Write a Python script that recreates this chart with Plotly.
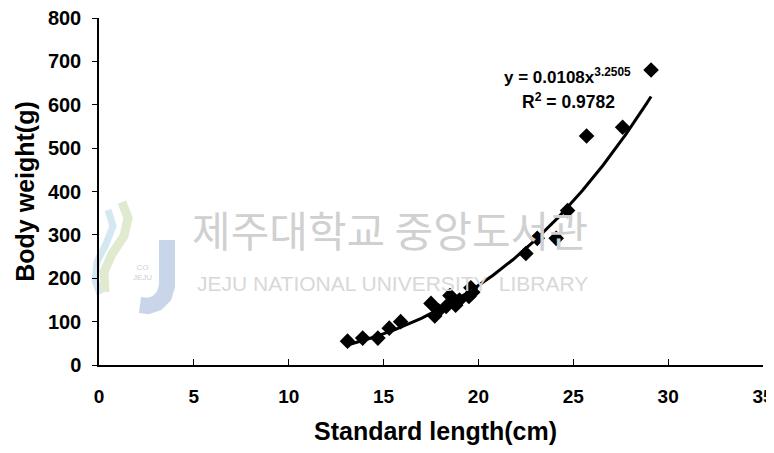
import numpy as np
import plotly.graph_objects as go

# Standard length (cm) vs body weight (g)
length_cm = [13.1, 13.9, 14.7, 15.3, 15.9, 17.5, 17.7, 17.9, 18.3, 18.5,
             18.8, 19.0, 19.5, 19.6, 19.7, 22.5, 23.1, 24.1, 24.7, 25.7,
             27.6, 29.1]
weight_g = [55, 62, 62, 85, 100, 142, 113, 125, 135, 160,
            138, 150, 158, 178, 168, 257, 292, 292, 356, 528,
            548, 680]

# power trendline shown on the chart: y = a * x^b
coef_a = 0.0108
coef_b = 3.2505
r_squared = 0.9782

x_ticks = [0, 5, 10, 15, 20, 25, 30, 35]
y_ticks = [0, 100, 200, 300, 400, 500, 600, 700, 800]

FONT = "Liberation Sans, Arial, sans-serif"

# the page body has an 8px margin all round, so the figure is drawn
# smaller to keep the page from scrolling
OFF = 8
W, H = 774 - OFF, 453 - 2 * OFF
# plot box in screen pixels
L, R, T, B = 99, 763, 18, 365


def pp(px, py):
    # screen pixel -> paper coords (for text/watermark placement)
    return (px - L) / (R - L), (B - py) / (B - T)


def path(points):
    s = ""
    for i, (px, py) in enumerate(points):
        x, y = pp(px, py)
        s += ("M" if i == 0 else "L") + " %.4f %.4f " % (x, y)
    return s


fit_x = np.linspace(min(length_cm), max(length_cm), 200)
fit_y = coef_a * fit_x ** coef_b

fig = go.Figure()

fig.add_trace(go.Scatter(
    x=fit_x, y=fit_y, mode="lines",
    line=dict(color="black", width=3),
    hoverinfo="skip", showlegend=False
))

fig.add_trace(go.Scatter(
    x=length_cm, y=weight_g, mode="markers",
    marker=dict(symbol="diamond", size=12, color="black"),
    showlegend=False
))

# faded library watermark: logo swirls + J, then the text
shapes = [
    dict(type="path", xref="paper", yref="paper", layer="below",
         path=path([(122, 202), (128, 218), (124, 236), (112, 254), (104, 272), (105, 292)]),
         line=dict(color="#dfeacf", width=9)),
    dict(type="path", xref="paper", yref="paper", layer="below",
         path=path([(108, 210), (113, 226), (106, 244), (97, 262), (95, 280), (100, 294)]),
         line=dict(color="#d4e8f2", width=7)),
    dict(type="path", xref="paper", yref="paper", layer="below",
         path=path([(167, 240), (167, 286), (164, 296), (157, 303), (148, 306), (140, 305)]),
         line=dict(color="#c9d6ea", width=16)),
]

fig.add_annotation(
    x=pp(131, 284)[0], y=pp(131, 284)[1], xref="paper", yref="paper",
    showarrow=False, text="CO<br>JEJU",
    font=dict(family=FONT, size=8, color="#cfcfcf")
)
fig.add_annotation(
    x=pp(390, 261)[0], y=pp(390, 261)[1], xref="paper", yref="paper",
    showarrow=False, text="제주대학교 중앙도서관",
    font=dict(family="Noto Sans CJK KR", size=42, color="#d0d0d0")
)
fig.add_annotation(
    x=pp(392, 297)[0], y=pp(392, 297)[1], xref="paper", yref="paper",
    showarrow=False, text="JEJU NATIONAL UNIVERSITY  LIBRARY",
    font=dict(family=FONT, size=21, color="#d8d8d8")
)

# trendline equation
fig.add_annotation(
    x=24.7, y=666, xref="x", yref="y", showarrow=False,
    text="y = %.4fx<sup>%.4f</sup>" % (coef_a, coef_b),
    font=dict(family=FONT, size=17, color="black", weight="bold")
)
fig.add_annotation(
    x=24.75, y=608, xref="x", yref="y", showarrow=False,
    text="R<sup>2</sup> = %.4f" % r_squared,
    font=dict(family=FONT, size=17.5, color="black", weight="bold")
)

# x axis title placed directly
fig.add_annotation(
    x=pp(435, 431)[0], y=pp(435, 431)[1], xref="paper", yref="paper",
    showarrow=False, yanchor="middle", text="Standard length(cm)",
    font=dict(family=FONT, size=25, color="black", weight="bold")
)

fig.update_layout(
    width=W, height=H,
    margin=dict(l=L - OFF, r=W - (R - OFF), t=T - OFF, b=H - (B - OFF),
                autoexpand=False),
    paper_bgcolor="white", plot_bgcolor="white",
    font=dict(family=FONT, color="black"),
    shapes=shapes,
    xaxis=dict(
        range=[0, 35], tickvals=x_ticks, showgrid=False, zeroline=False,
        showline=True, linecolor="black", linewidth=1.5,
        ticks="inside", ticklen=6, tickcolor="black",
        ticklabelstandoff=13, automargin=False, ticklabeloverflow="allow",
        tickfont=dict(size=19, weight="bold")
    ),
    yaxis=dict(
        range=[0, 800], tickvals=y_ticks, showgrid=False, zeroline=False,
        showline=True, linecolor="black", linewidth=1.5,
        ticks="outside", ticklen=5, tickcolor="black",
        ticklabelstandoff=7, automargin=False, ticklabeloverflow="allow",
        tickfont=dict(size=20, weight="bold"),
        title=dict(text="Body weight(g)", standoff=6,
                   font=dict(size=25, weight="bold"))
    ),
)

fig.write_html("out.html")
